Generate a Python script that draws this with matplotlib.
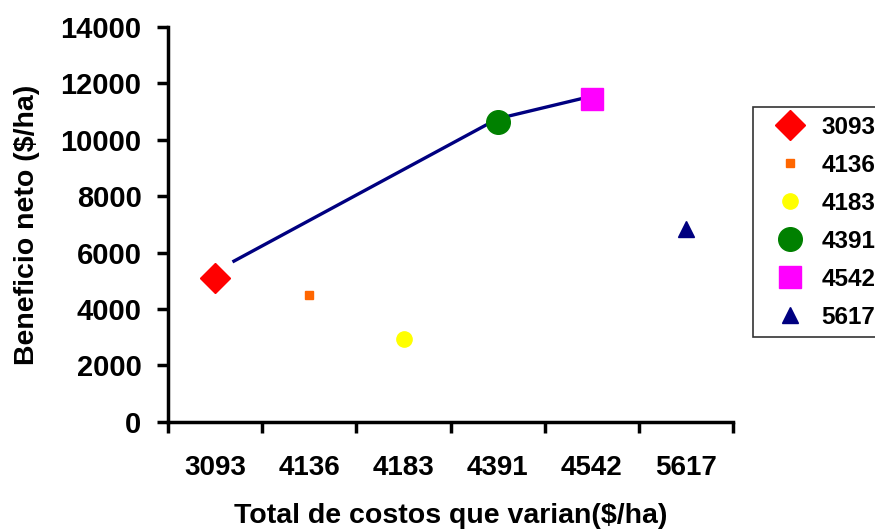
import matplotlib
matplotlib.use("Agg")
import matplotlib.pyplot as plt

plt.rcParams['font.family'] = ['Liberation Sans', 'DejaVu Sans']
plt.rcParams['font.weight'] = 'bold'

# Data
categories = ['3093', '4136', '4183', '4391', '4542', '5617']
beneficio = [5100, 4500, 2950, 10650, 11450, 6850]
markers = ['D', 's', 'o', 'o', 's', '^']
colors = ['#ff0000', '#ff6600', '#ffff00', '#008000', '#ff00ff', '#000080']
sizes = [15, 6, 11, 17, 16, 11]

# Dominance curve
curve_x = [0.2, 3, 4]
curve_y = [5700, 10750, 11550]

fig = plt.figure(figsize=(8.75, 5.3), dpi=100)
ax = fig.add_axes([0.192, 0.204, 0.646, 0.745])

ax.plot(curve_x, curve_y, color='#000080', lw=2.4, zorder=2)
for i, cat in enumerate(categories):
    ax.plot(i, beneficio[i], linestyle='none', marker=markers[i], color=colors[i],
            markersize=sizes[i], label=cat, zorder=3)

ax.set_xlim(-0.5, 5.5)
ax.set_ylim(0, 14000)
ax.set_xticks([i - 0.5 for i in range(7)])
ax.set_xticklabels([])
ax.set_xticks(range(6), minor=True)
ax.set_xticklabels(categories, minor=True)
ax.tick_params(axis='x', which='minor', length=0, pad=24, labelsize=20)
ax.tick_params(axis='x', which='major', length=8, width=2.5, direction='out')
ax.set_yticks(range(0, 14001, 2000))
ax.tick_params(axis='y', length=8, width=2.5, labelsize=21, pad=11)
for lab in ax.get_yticklabels() + ax.get_xticklabels(minor=True):
    lab.set_fontweight('bold')

for s in ['top', 'right']:
    ax.spines[s].set_visible(False)
for s in ['left', 'bottom']:
    ax.spines[s].set_linewidth(2.5)

ax.set_xlabel('Total de costos que varian($/ha)', fontsize=20.5, fontweight='bold', labelpad=16)
ax.set_ylabel('Beneficio neto ($/ha)', fontsize=20.5, fontweight='bold', labelpad=15)

leg = fig.legend(loc='upper left', bbox_to_anchor=(0.861, 0.798), frameon=True,
                 fancybox=False, edgecolor='black', fontsize=17.5, labelspacing=0.62,
                 handletextpad=0.15, borderpad=0.35, handlelength=2.3, borderaxespad=0)
leg.get_frame().set_linewidth(1.2)
for t in leg.get_texts():
    t.set_fontweight('bold')

fig.savefig('out.png', dpi=100)
